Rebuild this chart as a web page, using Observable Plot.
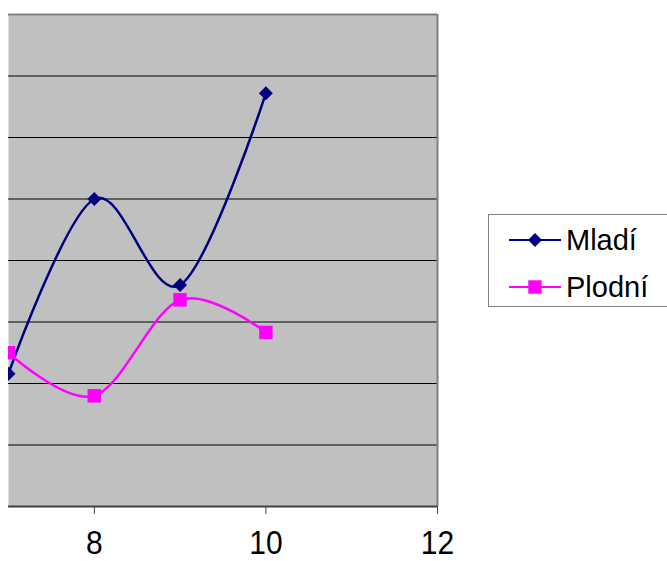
<!DOCTYPE html>
<html>
<head>
<meta charset="utf-8">
<script src="https://cdn.jsdelivr.net/npm/d3@7"></script>
<script src="https://cdn.jsdelivr.net/npm/@observablehq/plot@0.6"></script>
<style>
  body { margin: 0; background: #fff; font-family: Arial, "Liberation Sans", Helvetica, sans-serif; }
  #wrap { position: relative; width: 667px; height: 561px; overflow: hidden; }
  #wrap svg text { font-family: Arial, "Liberation Sans", Helvetica, sans-serif; }
  #legend { position: absolute; left: 488px; top: 214px; width: 200px; height: 93px;
            border: 1px solid #808080; background: #fff; box-sizing: border-box; }
  #legend .row { position: absolute; left: 0; height: 30px; display: flex; align-items: center; }
  #legend .lab { font-size: 29px; color: #000; margin-left: 4px; line-height: 30px; }
</style>
</head>
<body>
<div id="wrap"></div>
<script>
// Data (y in chart units; grid every 10)
const xValues = [7, 8, 9, 10];
const mladi   = [21.6, 50, 36, 67.2];
const plodni  = [25, 18, 33.6, 28.3];
const seriesNames  = ["Mladí", "Plodní"];
const seriesColors = ["#000080", "#FF00FF"];
const seriesSymbols = ["diamond2", "square"];
const xTicks = [8, 10, 12];
const gridLines = [10, 20, 30, 40, 50, 60, 70];

const rows = [];
xValues.forEach((x, i) => rows.push({x, y: mladi[i], s: seriesNames[0]}));
xValues.forEach((x, i) => rows.push({x, y: plodni[i], s: seriesNames[1]}));

const chart = Plot.plot({
  width: 667, height: 561,
  marginLeft: 8, marginRight: 230, marginTop: 14, marginBottom: 55,
  style: { fontFamily: "Arial, 'Liberation Sans', Helvetica, sans-serif", background: "transparent" },
  x: { domain: [7, 12] },
  y: { domain: [0, 80], axis: null },
  color: { domain: seriesNames, range: seriesColors },
  symbol: { domain: seriesNames, range: seriesSymbols },
  marks: [
    Plot.frame({ fill: "#C0C0C0", stroke: "none" }),
    Plot.ruleY(gridLines, { stroke: "#000", strokeWidth: 1 }),
    Plot.ruleY([80], { stroke: "#808080", strokeWidth: 2 }),
    Plot.ruleX([12], { stroke: "#808080", strokeWidth: 2 }),
    Plot.ruleY([0], { stroke: "#404040", strokeWidth: 2 }),
    Plot.axisX({ ticks: xTicks, tickFormat: d3.format("d"), tickSize: 8, tickPadding: 16, fontSize: 30, label: null, stroke: "#404040", color: "#000" }),
    Plot.line(rows, { x: "x", y: "y", z: "s", stroke: "s", curve: "cardinal", strokeWidth: 2.5, clip: true }),
    Plot.dot(rows.filter(d => d.s === "Mladí"), { x: "x", y: "y", symbol: "s", fill: "s", r: 6.3, clip: true }),
    Plot.dot(rows.filter(d => d.s === "Plodní"), { x: "x", y: "y", symbol: "s", fill: "s", r: 7.6, clip: true })
  ]
});
document.getElementById("wrap").appendChild(chart);

// Stretch tick labels vertically a little (reference glyphs are taller)
d3.select(chart).selectAll('g[aria-label="x-axis tick label"] text').each(function() {
  const t = d3.select(this);
  let tr = t.attr("transform");
  if (!tr) {
    const x = +t.attr("x") || 0, y = +t.attr("y") || 0;
    t.attr("x", null).attr("y", null);
    tr = `translate(${x},${y})`;
  }
  t.attr("transform", tr + " scale(1,1.1)");
});

// Legend
const legend = document.createElement("div");
legend.id = "legend";
const rowTops = [10, 57];
seriesNames.forEach((name, i) => {
  const row = document.createElement("div");
  row.className = "row";
  row.style.top = rowTops[i] + "px";
  row.style.left = "19px";
  const sym = d3.symbol(i === 0 ? d3.symbolDiamond2 : d3.symbolSquare, i === 0 ? 125 : 180)();
  row.innerHTML = `<svg width="54" height="30"><line x1="1" x2="53" y1="15" y2="15" stroke="${seriesColors[i]}" stroke-width="2"/>` +
    `<path d="${sym}" transform="translate(27,15)" fill="${seriesColors[i]}"/></svg><span class="lab">${name}</span>`;
  legend.appendChild(row);
});
document.getElementById("wrap").appendChild(legend);
</script>
</body>
</html>
